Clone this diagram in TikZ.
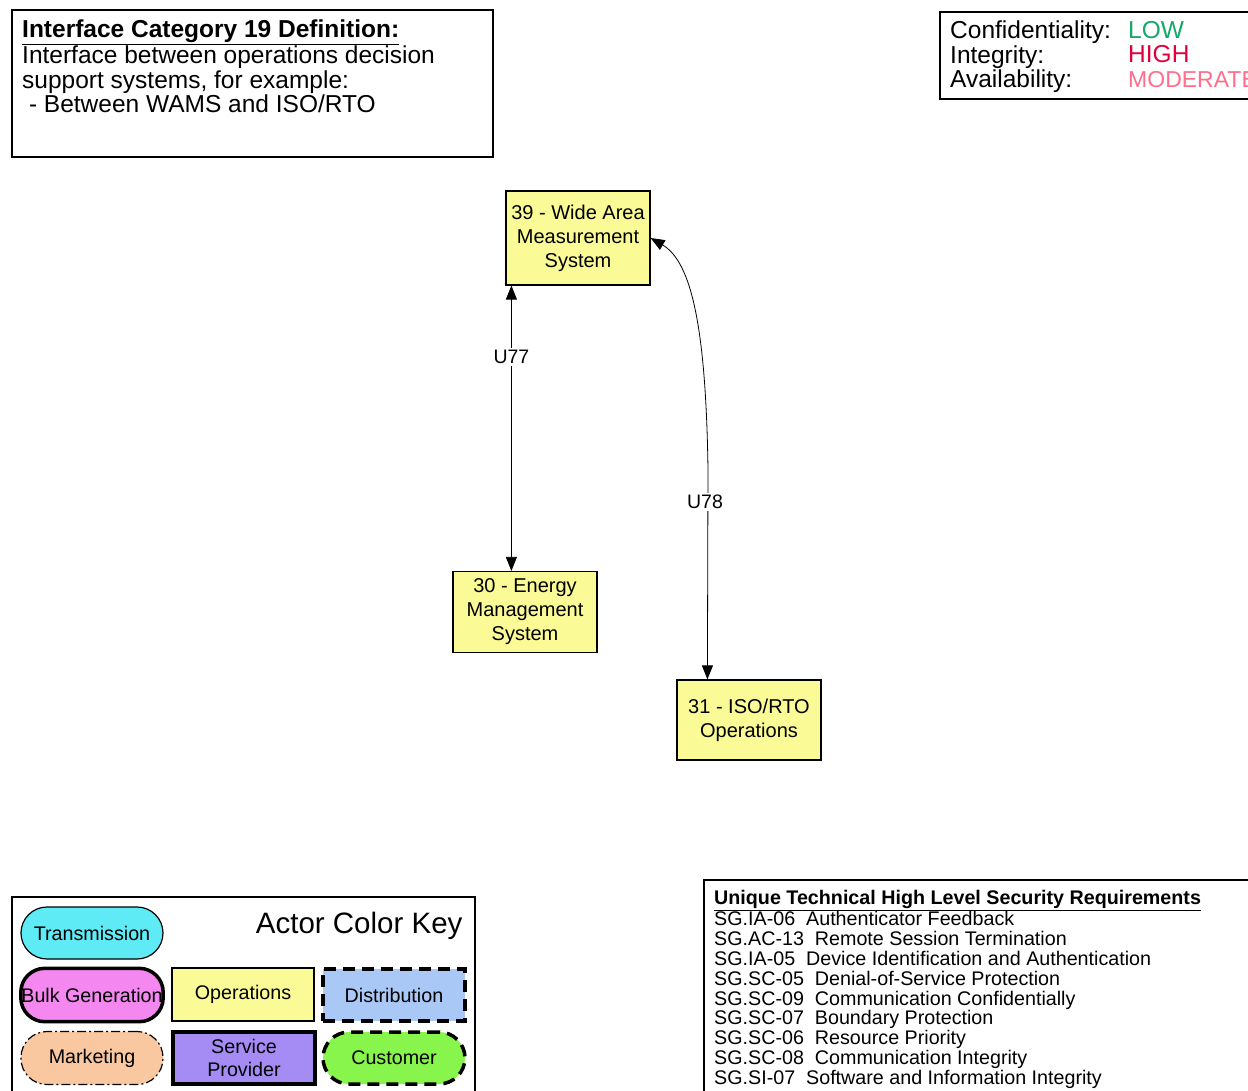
\documentclass[tikz,border=0pt]{standalone}
\usepackage{fontspec}
\setmainfont{Liberation Sans}
\usetikzlibrary{arrows.meta}
\definecolor{opyellow}{RGB}{250,250,150}
\definecolor{trcyan}{RGB}{95,235,245}
\definecolor{bgmag}{RGB}{245,135,240}
\definecolor{dsblue}{RGB}{170,200,245}
\definecolor{mkpeach}{RGB}{250,200,160}
\definecolor{sppurple}{RGB}{165,140,245}
\definecolor{cugreen}{RGB}{135,245,75}
\definecolor{lowgreen}{RGB}{20,168,105}
\definecolor{highred}{RGB}{225,0,60}
\definecolor{modpink}{RGB}{255,110,140}
\tikzset{
  actor/.style={draw, line width=1.2pt, fill=opyellow, minimum width=144pt, align=center,
    font=\fontsize{20}{24}\selectfont, inner sep=0pt},
  infobox/.style={draw, line width=1.3pt},
  lbl/.style={fill=white, inner sep=2pt, font=\fontsize{19.5}{21}\selectfont},
  conn/.style={line width=0.8pt, {Triangle[length=14pt,width=11pt]}-{Triangle[length=14pt,width=11pt]}},
  keytext/.style={font=\fontsize{19.7}{23}\selectfont, align=center},
}
\begin{document}
\begin{tikzpicture}[x=1pt,y=-1pt]
\useasboundingbox (0,0) rectangle (1248,1090);
\fill[white] (0,0) rectangle (1248,1090);

% Definition box
\draw[infobox] (12,10) rectangle (493,157);
\node[anchor=north west, align=left, inner sep=0pt, font=\fontsize{24.5}{24.5}\selectfont] (def) at (22,20)
 {\textbf{\underline{Interface Category 19 Definition:}}\\
  Interface between operations decision\\
  support systems, for example:\\
  \ - Between WAMS and ISO/RTO};

% CIA box
\draw[infobox] (940,12) rectangle (1260,99);
\node[anchor=north west, align=left, inner sep=0pt, font=\fontsize{24.5}{24.5}\selectfont] (cia) at (950,21)
 {Confidentiality:\\Integrity:\\Availability:};
\node[anchor=north west, align=left, inner sep=0pt, font=\fontsize{24.5}{24.5}\selectfont] (ciav) at (1128,21)
 {\textcolor{lowgreen}{LOW}\\\textcolor{highred}{HIGH}\\\textcolor{modpink}{\fontsize{23}{24.5}\selectfont MODERATE}};

% Actors
\node[actor, minimum height=94pt] (n39) at (578,238) {39 - Wide Area\\Measurement\\System};
\node[actor, minimum height=81pt] (n30) at (525,612) {30 - Energy\\Management\\System};
\node[actor, minimum height=80pt] (n31) at (749,720) {31 - ISO/RTO\\Operations};

% Connectors
\draw[conn] ([xshift=6pt]n39.south west) -- node[lbl, pos=0.25] (u77) {U77} ([xshift=59pt]n30.north west);
\coordinate (bend) at (708,470);
\draw[conn] ([xshift=31pt]n31.north west) -- (bend) .. controls (706,330) and (692,262) .. (n39.east);
\node[lbl] (u78) at (705,502) {U78};

% Actor colour key
\draw[infobox] (12,897) rectangle (475,1100);
\node[font=\fontsize{29.5}{30}\selectfont, anchor=east] (keyt) at (466,926) {Actor Color Key};
\node[keytext, draw, line width=1.2pt, fill=trcyan, rounded corners=26pt, minimum width=142pt, minimum height=52pt] (ktr) at (92,933) {Transmission};
\node[keytext, fill=bgmag, rounded corners=26pt, minimum width=142pt, minimum height=53pt, inner sep=0pt] (kbg) at (92,995) {Bulk Generation};
\draw[line width=3.5pt, rounded corners=24pt] (kbg.north west) rectangle (kbg.south east);
\node[keytext, draw, line width=1.2pt, fill=opyellow, minimum width=142pt, minimum height=53pt] (kop) at (243,994.5) {Operations};
\node[keytext, draw, line width=3.5pt, dash pattern=on 12pt off 7pt, fill=dsblue, minimum width=142pt, minimum height=52pt] (kds) at (394,995) {Distribution};
\node[keytext, draw, line width=1.2pt, dash pattern=on 9pt off 3pt on 2pt off 3pt, fill=mkpeach, rounded corners=26pt, minimum width=142pt, minimum height=53pt] (kmk) at (92,1058) {Marketing};
\node[keytext, draw, line width=3.5pt, fill=sppurple, minimum width=142pt, minimum height=52pt, font=\fontsize{19.7}{23}\selectfont] (ksp) at (244,1058) {Service\\Provider};
\node[keytext, draw, line width=3.5pt, dash pattern=on 12pt off 7pt, fill=cugreen, rounded corners=26pt, minimum width=142pt, minimum height=52pt] (kcu) at (394,1058) {Customer};

% Requirements box
\draw[infobox] (704,880) rectangle (1260,1100);
\node[anchor=north west, align=left, inner sep=0pt, font=\fontsize{19.7}{19.78}\selectfont] (req) at (714,890)
 {\textbf{\underline{Unique Technical High Level Security Requirements}}\\
  SG.IA-06\ \ Authenticator Feedback\\
  SG.AC-13\ \ Remote Session Termination\\
  SG.IA-05\ \ Device Identification and Authentication\\
  SG.SC-05\ \ Denial-of-Service Protection\\
  SG.SC-09\ \ Communication Confidentially\\
  SG.SC-07\ \ Boundary Protection\\
  SG.SC-06\ \ Resource Priority\\
  SG.SC-08\ \ Communication Integrity\\
  SG.SI-07\ \ Software and Information Integrity};
\end{tikzpicture}
\end{document}
